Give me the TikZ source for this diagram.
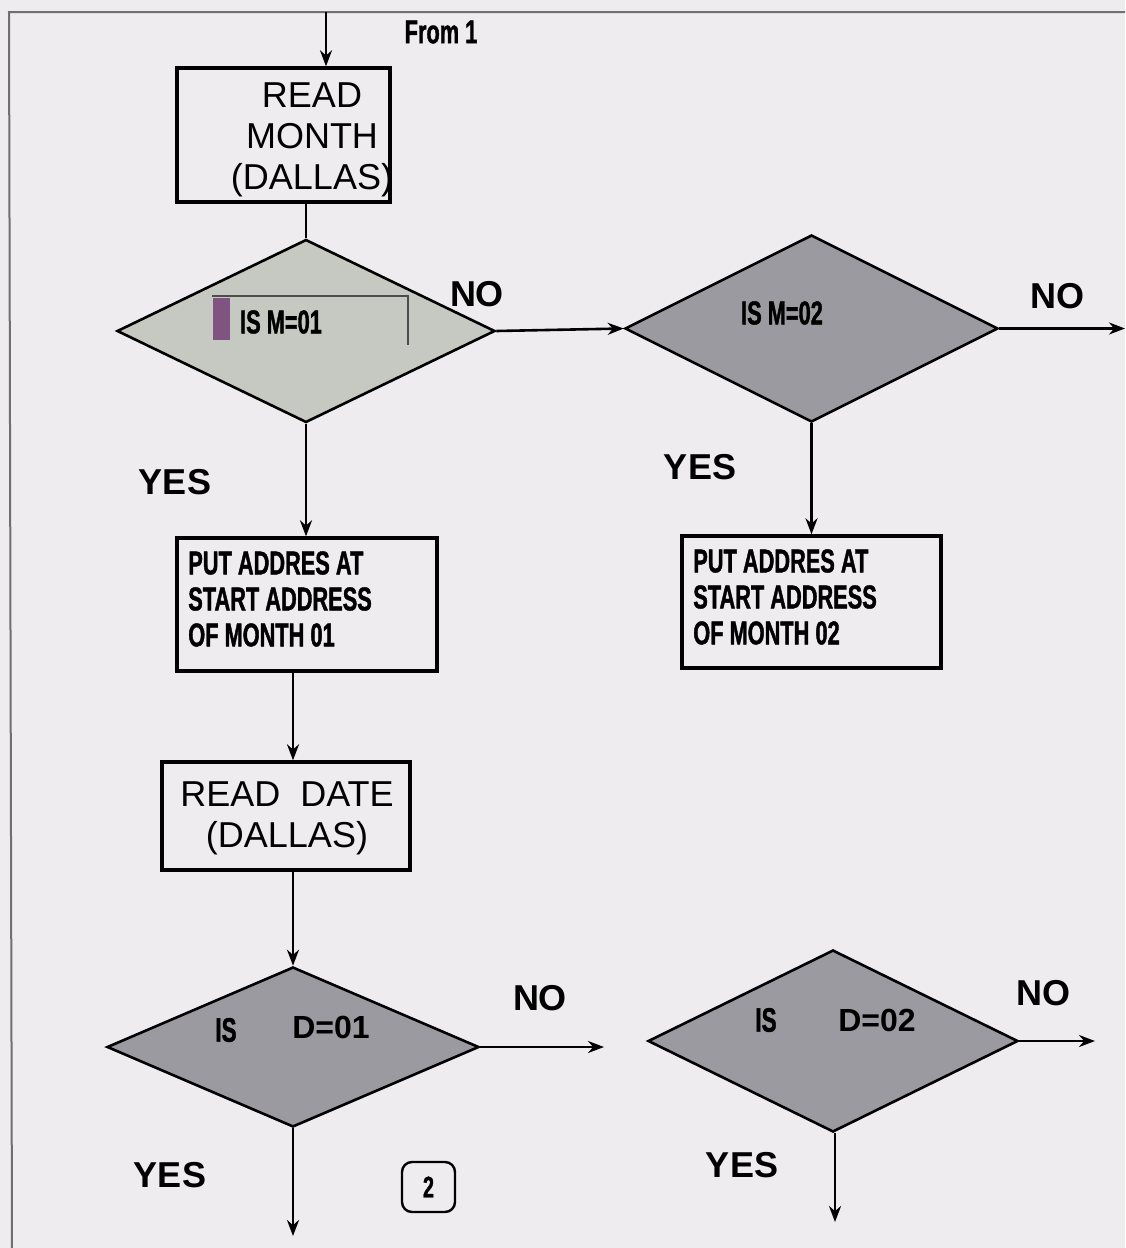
\documentclass[tikz,border=0pt]{standalone}
\usepackage{fontspec}
\setmainfont{Liberation Sans}
\newfontfamily\narrowfont[FakeStretch=0.66,BoldFeatures={FakeBold=1.2}]{Liberation Sans}
\usetikzlibrary{shapes.geometric,arrows.meta}
\definecolor{bgcol}{RGB}{239,236,240}
\definecolor{lightq}{RGB}{198,201,193}
\definecolor{darkq}{RGB}{155,154,160}
\definecolor{framecol}{RGB}{110,110,115}
\begin{document}
\begin{tikzpicture}[x=0.5pt, y=-0.5pt, >={Stealth[length=8pt,width=6pt]}, line width=1.3pt,
    procbox/.style={draw, line width=1.7pt, inner sep=0pt},
    decision/.style={diamond, draw, line width=1.3pt, inner sep=0pt},
    bigtxt/.style={font=\fontsize{18}{20.5}\selectfont, align=center, inner sep=0pt},
    answer/.style={font=\bfseries\fontsize{18}{20}\selectfont, inner sep=0pt},
    narrowtxt/.style={font=\narrowfont\bfseries\fontsize{16.5}{18}\selectfont, align=left, inner sep=0pt},
    qtxt/.style={font=\narrowfont\bfseries\fontsize{16.5}{18}\selectfont, inner sep=0pt}]
    % page and frame
    \fill[bgcol] (0,0) rectangle (1125,1248);
    \useasboundingbox (0,0) rectangle (1125,1248);
    \draw[framecol, line width=1pt] (1125,12) -- (9,12) -- (12,1248);
    % month part
    \coordinate (from1) at (326,12);
    \node[qtxt] (fromtxt) at (441,32) {From 1};
    \node[procbox, minimum width=106.5pt, minimum height=67pt] (month) at (283.5,135) {};
    \node[bigtxt] (monthtxt) at (312,140) {READ\\MONTH\\(DALLAS)};
    \node[decision, fill=lightq, minimum width=189pt, minimum height=91.5pt] (q1) at (306,331) {};
    \draw[gray!60!black, line width=1pt] (212,296) -- (408,296) -- (408,345);
    \fill[violet!35!gray] (213,298) rectangle (230,340);
    \node[qtxt] (q1txt) at (281,322) {IS M=01};
    \node[decision, fill=darkq, minimum width=186.5pt, minimum height=93.5pt] (q2) at (811.5,328.5) {};
    \node[qtxt] (q2txt) at (782,313) {IS M=02};
    \coordinate (exitM) at (1125,328.5);
    \node[procbox, minimum width=130pt, minimum height=66.5pt] (put1) at (307,604.5) {};
    \node[narrowtxt, anchor=west] (put1txt) at (187,599) {PUT ADDRES AT\\START ADDRESS\\OF MONTH 01};
    \node[procbox, minimum width=129.5pt, minimum height=66pt] (put2) at (811.5,602) {};
    \node[narrowtxt, anchor=west] (put2txt) at (692,597) {PUT ADDRES AT\\START ADDRESS\\OF MONTH 02};
    % date part
    \node[procbox, minimum width=124pt, minimum height=54pt] (date) at (286,816) {};
    \node[bigtxt] (datetxt) at (287,818) {READ\ \ DATE\\(DALLAS)};
    \node[decision, fill=darkq, minimum width=186pt, minimum height=80pt] (q3) at (293,1047) {};
    \node[qtxt, font=\narrowfont\bfseries\fontsize{17}{19}\selectfont] (q3is) at (226,1030) {IS};
    \node[answer, font=\bfseries\fontsize{16}{18}\selectfont] (q3txt) at (331,1027) {D=01};
    \node[decision, fill=darkq, minimum width=185pt, minimum height=91pt] (q4) at (833,1041) {};
    \node[qtxt, font=\narrowfont\bfseries\fontsize{17}{19}\selectfont] (q4is) at (766,1020) {IS};
    \node[answer, font=\bfseries\fontsize{16}{18}\selectfont] (q4txt) at (877,1020) {D=02};
    \coordinate (exitD1) at (604,1047);
    \coordinate (exitD2) at (1095,1041);
    \coordinate (downD1) at (293,1236);
    \coordinate (downD2) at (835,1222);
    \node[draw, rounded corners=5pt, line width=1.2pt, minimum width=26.5pt, minimum height=25pt,
        inner sep=0pt, font=\narrowfont\bfseries\fontsize{15}{17}\selectfont] (page2) at (428.5,1187) {2};
    % answers
    \node[answer] (no1) at (477,294) {NO};
    \node[answer] (no2) at (1057,296) {NO};
    \node[answer] (no3) at (540,998) {NO};
    \node[answer] (no4) at (1043,993) {NO};
    \node[answer] (yes1) at (175,482) {YES};
    \node[answer] (yes2) at (700,467) {YES};
    \node[answer] (yes3) at (170,1175) {YES};
    \node[answer] (yes4) at (742,1165) {YES};
    % connectors
    \draw[->] (from1) -- (from1 |- month.north);
    \draw (month.south -| q1.north) -- (q1.north);
    \draw[->] (q1.east) -- (q2.west);
    \draw[->] (q2.east) -- (exitM);
    \draw[->] (q1.south) -- (q1.south |- put1.north);
    \draw[->] (q2.south) -- (q2.south |- put2.north);
    \draw[->] (put1.south -| q3.north) -- (date.north -| q3.north);
    \draw[->] (date.south -| q3.north) -- (q3.north);
    \draw[->] (q3.east) -- (exitD1);
    \draw[->] (q4.east) -- (exitD2);
    \draw[->] (q3.south) -- (downD1);
    \draw[->] (q4.south -| downD2) -- (downD2);
\end{tikzpicture}
\end{document}
